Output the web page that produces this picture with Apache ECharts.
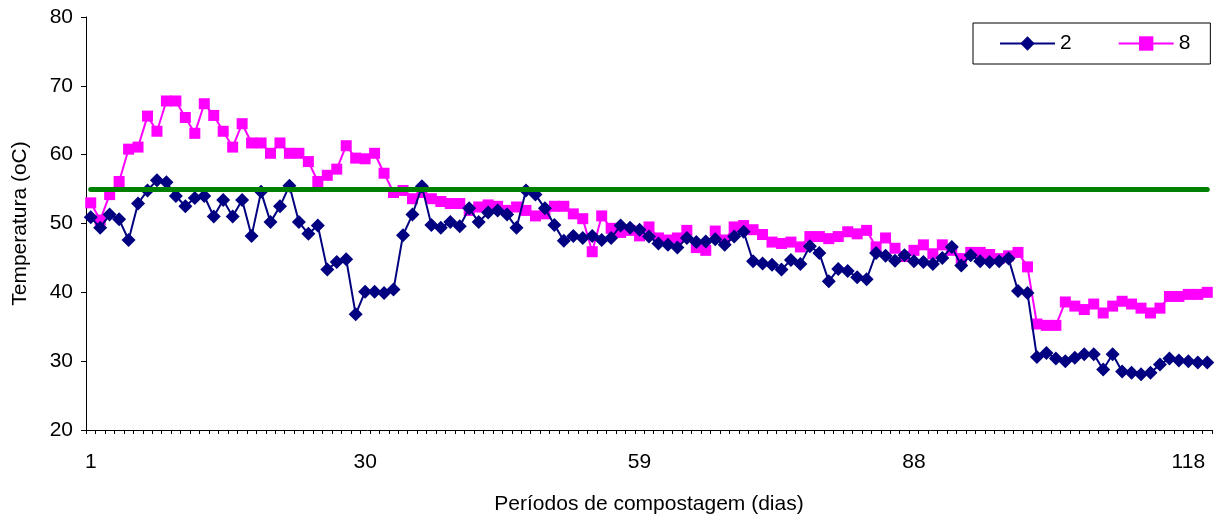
<!DOCTYPE html>
<html>
<head>
<meta charset="utf-8">
<title>Temperatura durante a compostagem</title>
<script src="https://cdn.jsdelivr.net/npm/echarts@6/dist/echarts.min.js"></script>
<style>
  html, body { margin: 0; padding: 0; background: #fff; }
  #chart { width: 1217px; height: 520px; }
</style>
</head>
<body>
<div id="chart"></div>
<script>
// Dias de amostragem (dia 100 sem leitura)
const dias = [
  1, 2, 3, 4, 5, 6, 7, 8, 9, 10, 11, 12, 13, 14, 15, 16, 17, 18, 19, 20,
  21, 22, 23, 24, 25, 26, 27, 28, 29, 30, 31, 32, 33, 34, 35, 36, 37, 38, 39, 40,
  41, 42, 43, 44, 45, 46, 47, 48, 49, 50, 51, 52, 53, 54, 55, 56, 57, 58, 59, 60,
  61, 62, 63, 64, 65, 66, 67, 68, 69, 70, 71, 72, 73, 74, 75, 76, 77, 78, 79, 80,
  81, 82, 83, 84, 85, 86, 87, 88, 89, 90, 91, 92, 93, 94, 95, 96, 97, 98, 99, 101,
  102, 103, 104, 105, 106, 107, 108, 109, 110, 111, 112, 113, 114, 115, 116, 117, 118, 119, 120
];

// Leira 2 (°C)
const leira2 = [
  50.9, 49.4, 51.3, 50.6, 47.6, 52.9, 54.8, 56.3, 56.0, 54.0,
  52.5, 53.7, 54.0, 51.0, 53.4, 51.0, 53.4, 48.2, 54.6, 50.2,
  52.5, 55.5, 50.2, 48.5, 49.7, 43.3, 44.4, 44.8, 36.8, 40.1,
  40.1, 39.9, 40.4, 48.3, 51.3, 55.4, 49.8, 49.4, 50.2, 49.6,
  52.2, 50.2, 51.6, 51.9, 51.3, 49.4, 54.8, 54.2, 52.2, 49.8,
  47.5, 48.2, 47.9, 48.2, 47.6, 47.9, 49.7, 49.4, 49.1, 48.1,
  47.1, 46.9, 46.5, 47.9, 47.3, 47.4, 47.7, 46.9, 48.1, 48.8,
  44.5, 44.2, 44.0, 43.3, 44.7, 44.1, 46.7, 45.7, 41.6, 43.4,
  43.1, 42.2, 41.9, 45.7, 45.3, 44.6, 45.4, 44.5, 44.4, 44.1,
  45.0, 46.6, 43.9, 45.4, 44.5, 44.4, 44.5, 44.9, 40.2, 39.9,
  30.6, 31.2, 30.4, 30.0, 30.5, 31.0, 31.0, 28.8, 31.0, 28.5,
  28.3, 28.1, 28.3, 29.5, 30.4, 30.1, 30.0, 29.8, 29.8
];

// Leira 8 (°C)
const leira8 = [
  53.0, 50.5, 54.2, 56.1, 60.8, 61.1, 65.6, 63.4, 67.8, 67.8,
  65.4, 63.1, 67.4, 65.7, 63.4, 61.1, 64.5, 61.7, 61.7, 60.2,
  61.7, 60.2, 60.2, 59.0, 56.1, 57.0, 57.9, 61.3, 59.5, 59.4,
  60.2, 57.3, 54.5, 54.8, 53.6, 54.5, 53.6, 53.2, 52.9, 52.9,
  51.9, 52.4, 52.7, 52.5, 51.9, 52.4, 51.9, 51.1, 51.4, 52.5,
  52.5, 51.4, 50.7, 45.9, 51.1, 49.3, 48.7, 49.0, 48.2, 49.5,
  47.9, 47.6, 47.9, 49.0, 46.5, 46.1, 48.9, 47.6, 49.5, 49.7,
  49.1, 48.4, 47.3, 47.1, 47.3, 46.6, 48.1, 48.1, 47.8, 48.1,
  48.8, 48.5, 49.0, 46.6, 47.9, 46.4, 45.2, 46.1, 46.9, 45.6,
  46.9, 46.1, 44.9, 45.8, 45.8, 45.5, 44.9, 45.3, 45.8, 43.7,
  35.4, 35.2, 35.2, 38.6, 38.0, 37.5, 38.3, 37.0, 38.0, 38.7,
  38.3, 37.7, 37.0, 37.7, 39.4, 39.4, 39.7, 39.7, 40.0
];

// Temperatura de referência da fase termofílica (°C)
const limiteTermofilico = 55;

const eixoY = { min: 20, max: 80, passo: 10 };

const fonte = '"Liberation Sans", Arial, sans-serif';
const tamanhoFonte = 21;
const chart = echarts.init(document.getElementById('chart'), null, { renderer: 'canvas' });

chart.setOption({
  animation: false,
  backgroundColor: '#ffffff',
  textStyle: { fontFamily: fonte, color: '#000' },
  grid: { left: 86, right: 5, top: 17, bottom: 87, containLabel: false },
  legend: {
    data: ['2', '8'],
    left: 973,
    top: 23,
    orient: 'horizontal',
    padding: [10, 20, 10, 26],
    itemGap: 46,
    itemWidth: 55,
    itemHeight: 18,
    borderColor: '#000',
    borderWidth: 1,
    textStyle: { fontFamily: fonte, fontSize: tamanhoFonte, color: '#000' }
  },
  xAxis: {
    type: 'category',
    data: dias.map(String),
    boundaryGap: true,
    name: 'Períodos de compostagem (dias)',
    nameLocation: 'middle',
    nameGap: 64,
    nameTextStyle: { fontFamily: fonte, fontSize: tamanhoFonte, color: '#000' },
    axisLine: { lineStyle: { color: '#000', width: 1 } },
    axisTick: { show: true, interval: 0, length: 4, lineStyle: { color: '#000' } },
    axisLabel: { interval: 28, margin: 22, fontFamily: fonte, fontSize: tamanhoFonte, color: '#000' },
    splitLine: { show: false }
  },
  yAxis: {
    type: 'value',
    min: eixoY.min,
    max: eixoY.max,
    interval: eixoY.passo,
    name: 'Temperatura (oC)',
    nameLocation: 'middle',
    nameGap: 55,
    nameTextStyle: { fontFamily: fonte, fontSize: tamanhoFonte, color: '#000' },
    axisLine: { show: true, lineStyle: { color: '#000', width: 1 } },
    axisTick: { show: true, length: 5, lineStyle: { color: '#000' } },
    axisLabel: { margin: 13, fontFamily: fonte, fontSize: tamanhoFonte, color: '#000' },
    splitLine: { show: false }
  },
  series: [
    {
      name: 'limite',
      type: 'line',
      data: [],
      z: 1,
      silent: true,
      markLine: {
        silent: true,
        symbol: ['none', 'none'],
        label: { show: false },
        lineStyle: { color: '#008000', width: 5, type: 'solid', cap: 'round' },
        data: [[
          { coord: [String(dias[0]), limiteTermofilico] },
          { coord: [String(dias[dias.length - 1]), limiteTermofilico] }
        ]]
      }
    },
    {
      name: '2',
      type: 'line',
      data: leira2,
      z: 3,
      symbol: 'diamond',
      symbolSize: 14,
      showAllSymbol: true,
      itemStyle: { color: '#000080' },
      lineStyle: { color: '#000080', width: 2 }
    },
    {
      name: '8',
      type: 'line',
      data: leira8,
      z: 2,
      symbol: 'rect',
      symbolSize: 11,
      showAllSymbol: true,
      itemStyle: { color: '#ff00ff' },
      lineStyle: { color: '#ff00ff', width: 2 }
    }
  ]
});
</script>
</body>
</html>
